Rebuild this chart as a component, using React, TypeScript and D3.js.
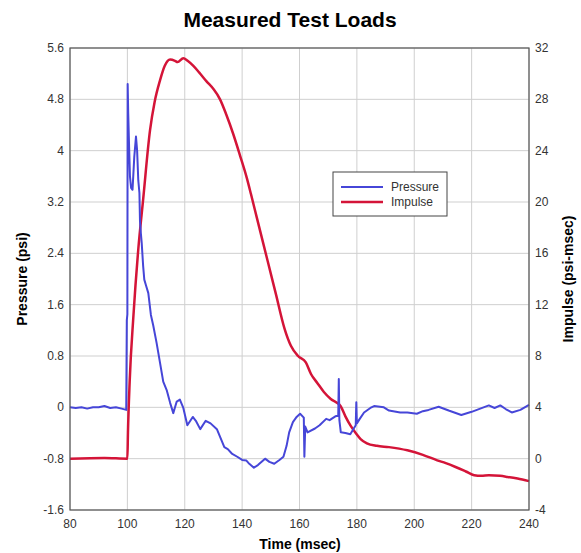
import * as d3 from 'd3';

const timeTicks = [80, 100, 120, 140, 160, 180, 200, 220, 240];
const pressureTicks = [-1.6, -0.8, 0, 0.8, 1.6, 2.4, 3.2, 4, 4.8, 5.6];
const impulseTicks = [-4, 0, 4, 8, 12, 16, 20, 24, 28, 32];

// pressure (psi) vs time (msec)
const pressureT = [
  80, 82, 84, 86, 88, 90, 92, 94, 96, 98, 99.6, 99.8, 100.0, 100.1, 100.3, 100.6, 100.9, 101.3, 101.8,
  102.4, 103.0, 103.4, 103.8, 104.2, 104.4, 104.7, 105.0, 105.5, 105.9, 106.5, 107.3, 108.2, 109.0,
  110.2, 111.4, 112.5, 113.7, 114.9, 116.0, 117.2, 118.3, 119.5, 120.9, 122.8, 124, 125.4, 127.3, 129,
  131.2, 133.8, 135, 136.4, 138.3, 140, 141.5, 142.5, 144.1, 145.5, 148, 149.5, 151.2, 153, 154.4,
  155.5, 156.4, 157.7, 159, 160.2, 161.5, 161.7, 162.0, 162.8, 165.4, 167, 169.3, 170.5, 172.5, 173.5,
  173.7, 173.9, 174.4, 176, 177.7, 179.6, 179.8, 180.0, 181, 182.5, 184.7, 186, 189.4, 191.2, 195.1,
  197.6, 200.9, 203, 205, 208.5, 212, 216.4, 220, 223, 226, 228, 230, 232, 234, 237, 240,
];
const pressureV = [
  0.0, -0.01, 0.0, -0.02, 0.0, 0.0, 0.02, -0.01, 0.0, -0.02, -0.04, 1.36, 1.45, 5.04, 4.58, 4.06, 3.6, 3.42, 3.39,
  3.9, 4.22, 4.0, 3.54, 3.34, 2.9, 2.71, 2.56, 2.2, 1.99, 1.9, 1.78, 1.44, 1.28,
  1.0, 0.69, 0.4, 0.27, 0.07, -0.09, 0.09, 0.12, -0.01, -0.28, -0.15, -0.22, -0.34, -0.21, -0.25,
  -0.34, -0.62, -0.65, -0.72, -0.77, -0.82, -0.83, -0.88, -0.94, -0.9, -0.8, -0.85, -0.88, -0.82, -0.77,
  -0.6, -0.39, -0.23, -0.15, -0.1, -0.16, -0.77, -0.3, -0.39, -0.33, -0.28, -0.18, -0.2, -0.14, -0.13,
  0.44, -0.2, -0.39, -0.4, -0.42, -0.28, 0.08, -0.25, -0.18, -0.08, -0.01, 0.02, 0.0, -0.05, -0.08,
  -0.08, -0.1, -0.06, -0.04, 0.01, -0.05, -0.12, -0.07, -0.02, 0.03, -0.01, 0.03, -0.03, -0.08, -0.04, 0.04,
];

// impulse (psi-msec) vs time (msec)
const impulseT = [
  80, 92, 100, 100.2, 100.8, 102.1, 103.8, 105.5, 107.9, 109.5, 111.4, 113, 114.9, 116.6, 117.5, 119.5,
  121, 123, 125, 127.6, 130, 132.3, 134.5, 136.9, 139.3, 141.6, 143.1, 145.1, 148.9, 151.8, 154.7, 157,
  159.5, 162.2, 164, 166.2, 168.5, 170.9, 174.3, 176, 177.8, 179.6, 181.3, 183.5, 187, 191.2, 197.6, 203,
  208, 211, 214.4, 218, 220.9, 223.4, 226, 229.9, 232.5, 236, 240,
];
const impulseV = [
  0, 0.05, 0, 2, 6, 11.1, 16.3, 20.2, 25.6, 27.8, 29.5, 30.6, 31.1, 31.0, 30.9, 31.2,
  31.0, 30.6, 30.1, 29.4, 28.8, 28.0, 26.8, 25.3, 23.6, 21.9, 20.6, 18.8, 15.4, 12.8, 10.2, 8.8,
  8.0, 7.5, 6.6, 5.9, 5.2, 4.65, 4.1, 3.3, 2.57, 2.0, 1.53, 1.2, 1.0, 0.9, 0.65, 0.3,
  -0.13, -0.35, -0.65, -1.0, -1.29, -1.34, -1.3, -1.34, -1.42, -1.55, -1.75,
];

const W = 581;
const H = 553;
const margin = { top: 48, right: 52, bottom: 43, left: 70 };
const font = '"Liberation Sans Narrow", "Arial Narrow", "Liberation Sans", Arial, sans-serif';
const blue = '#4646d8';
const red = '#d41438';

export default function App() {
  const x = d3.scaleLinear().domain([80, 240]).range([margin.left, W - margin.right]);
  const yP = d3.scaleLinear().domain([-1.6, 5.6]).range([H - margin.bottom, margin.top]);
  const yI = d3.scaleLinear().domain([-4, 32]).range([H - margin.bottom, margin.top]);

  const pLine = d3
    .line<number>()
    .x((_, i) => x(pressureT[i]))
    .y((d) => yP(d));
  const iLine = d3
    .line<number>()
    .x((_, i) => x(impulseT[i]))
    .y((d) => yI(d))
    .curve(d3.curveMonotoneX);

  const [x0, x1] = x.range();
  const [yb, yt] = yP.range();

  return (
    <svg
      width={W}
      height={H}
      style={{ position: 'absolute', left: 0, top: 0, background: '#fff' }}
      fontFamily={font}
    >
      <text x={290} y={27} textAnchor="middle" fontSize={21} fontWeight="bold" fill="#000">
        Measured Test Loads
      </text>

      {/* grid */}
      {timeTicks.map((t) => (
        <line key={'gx' + t} x1={x(t)} x2={x(t)} y1={yt} y2={yb} stroke="#cfcfcf" strokeWidth={1} />
      ))}
      {pressureTicks.map((p) => (
        <line key={'gy' + p} x1={x0} x2={x1} y1={yP(p)} y2={yP(p)} stroke="#cfcfcf" strokeWidth={1} />
      ))}

      {/* series */}
      <path d={iLine(impulseV) || ''} fill="none" stroke={red} strokeWidth={2.5} strokeLinejoin="round" />
      <path d={pLine(pressureV) || ''} fill="none" stroke={blue} strokeWidth={2} strokeLinejoin="round" />

      {/* frame */}
      <rect x={x0} y={yt} width={x1 - x0} height={yb - yt} fill="none" stroke="#555" strokeWidth={1.2} />

      {/* tick labels */}
      {pressureTicks.map((p) => (
        <text key={'pl' + p} x={x0 - 6} y={yP(p) + 4} textAnchor="end" fontSize={12} fill="#333">
          {String(p)}
        </text>
      ))}
      {impulseTicks.map((v) => (
        <text key={'il' + v} x={x1 + 6} y={yI(v) + 4} textAnchor="start" fontSize={12} fill="#333">
          {String(v)}
        </text>
      ))}
      {timeTicks.map((t) => (
        <text key={'tl' + t} x={x(t)} y={yb + 18} textAnchor="middle" fontSize={12} fill="#333">
          {String(t)}
        </text>
      ))}

      {/* axis titles */}
      <text x={300} y={549} textAnchor="middle" fontSize={14} fontWeight="bold" fill="#000">
        Time (msec)
      </text>
      <text
        transform={`translate(27, ${(yt + yb) / 2}) rotate(-90)`}
        textAnchor="middle"
        fontSize={14}
        fontWeight="bold"
        fill="#000"
      >
        Pressure (psi)
      </text>
      <text
        transform={`translate(573, ${(yt + yb) / 2}) rotate(-90)`}
        textAnchor="middle"
        fontSize={14}
        fontWeight="bold"
        fill="#000"
      >
        Impulse (psi-msec)
      </text>

      {/* legend */}
      <g>
        <rect x={333} y={172} width={114} height={44} fill="#fff" stroke="#444" strokeWidth={1} />
        <line x1={341} x2={383} y1={187} y2={187} stroke={blue} strokeWidth={2} />
        <line x1={341} x2={383} y1={202} y2={202} stroke={red} strokeWidth={2.5} />
        <text x={391} y={191} fontSize={12} fill="#333">Pressure</text>
        <text x={391} y={206} fontSize={12} fill="#333">Impulse</text>
      </g>
    </svg>
  );
}
